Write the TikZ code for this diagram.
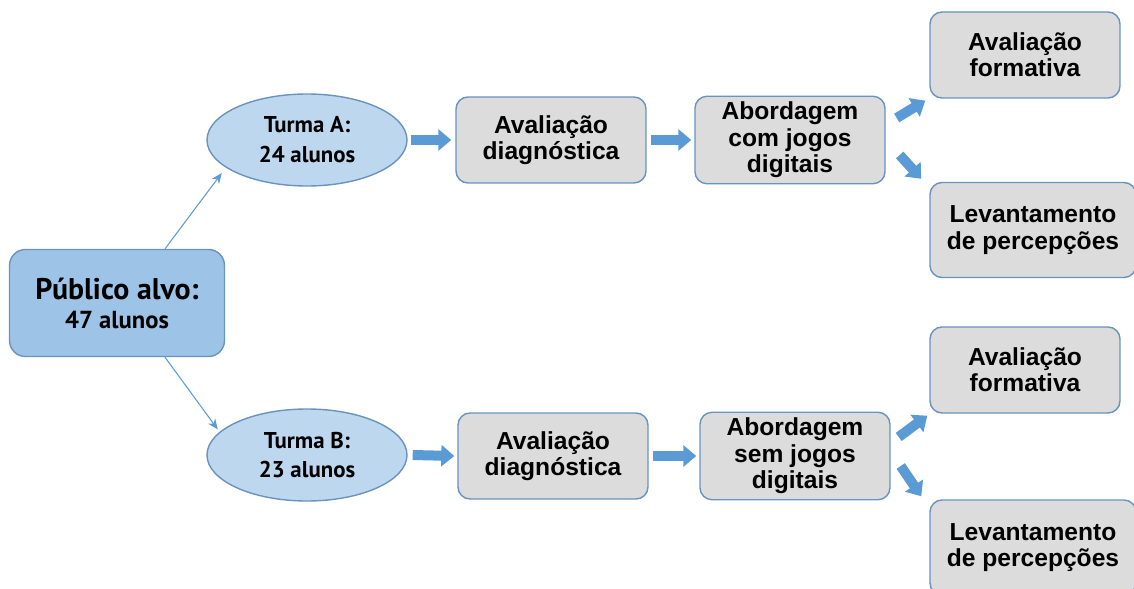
\documentclass[tikz,border=0pt]{standalone}
\usepackage{fontspec}
\setmainfont{Liberation Sans}
\newfontfamily\dinfont{PT Sans}
\usetikzlibrary{shapes.geometric,arrows.meta}

\definecolor{pubfill}{HTML}{9DC3E6}
\definecolor{ellfill}{HTML}{BDD7EE}
\definecolor{boxfill}{HTML}{DCDCDC}
\definecolor{edge}{HTML}{6A93C0}
\definecolor{arr}{HTML}{5B9BD5}

\begin{document}
\begin{tikzpicture}[
  pubbox/.style={draw=edge,fill=pubfill,rounded corners=0.32cm,minimum width=4.3cm,minimum height=2.14cm,align=center,font=\dinfont\bfseries\fontsize{17}{16.5}\selectfont,line width=0.8pt},
  turma/.style={ellipse,draw=edge,fill=ellfill,minimum width=4cm,minimum height=1.84cm,inner sep=0pt,align=center,font=\dinfont\bfseries\fontsize{13}{17}\selectfont,line width=0.8pt},
  gbox/.style={draw=edge,fill=boxfill,rounded corners=0.24cm,minimum width=3.8cm,minimum height=1.72cm,align=center,font=\bfseries\fontsize{14}{15}\selectfont,line width=0.8pt},
  barrow/.style={line width=0.2cm,color=arr,-{Triangle[width=0.42cm,length=0.26cm]}},
  tarrow/.style={color=arr,line width=0.6pt,-{Stealth[length=6pt,width=5pt]}}]
\useasboundingbox (0,0) rectangle (22.68,-11.78);
\clip (0,0) rectangle (22.68,-11.78);

\node[pubbox](pub) at (2.34,-6.06) {P\'ublico alvo:\\{\fontsize{14}{17}\selectfont 47 alunos}};

\node[turma](tA) at (6.14,-2.8) {Turma A:\\24 alunos};
\node[turma](tB) at (6.14,-9.1) {Turma B:\\23 alunos};

\node[gbox](dA) at (11.02,-2.8) {Avalia\c{c}\~ao\\diagn\'ostica};
\node[gbox](dB) at (11.06,-9.12) {Avalia\c{c}\~ao\\diagn\'ostica};

\node[gbox](jA) at (15.8,-2.8) {Abordagem\\com jogos\\digitais};
\node[gbox](jB) at (15.9,-9.12) {Abordagem\\sem jogos\\digitais};

\node[gbox](fA) at (20.5,-1.1) {Avalia\c{c}\~ao\\formativa};
\node[gbox](fB) at (20.5,-7.4) {Avalia\c{c}\~ao\\formativa};
\node[gbox,minimum width=4.12cm,minimum height=1.9cm](lA) at (20.66,-4.6) {Levantamento\\de percep\c{c}\~oes};
\node[gbox,minimum width=4.12cm,minimum height=1.9cm](lB) at (20.66,-10.95) {Levantamento\\de percep\c{c}\~oes};

% thin arrows to the two classes
\draw[tarrow] ([xshift=0.96cm]pub.north) -- ([xshift=-0.28cm]tA.south west);
\draw[tarrow] ([xshift=0.96cm]pub.south) -- ([shift={(-0.36cm,-0.15cm)}]tB.north west);

% block arrows
\draw[barrow] ([xshift=0.06cm]tA.east) -- ([xshift=-0.08cm]dA.west);
\draw[barrow] ([xshift=0.1cm]tB.east) -- ([xshift=-0.06cm]dB.west);
\draw[barrow] ([xshift=0.08cm]dA.east) -- ([xshift=-0.06cm]jA.west);
\draw[barrow] ([xshift=0.08cm]dB.east) -- ([xshift=-0.06cm]jB.west);

\draw[barrow] ([shift={(0.22cm,0.44cm)}]jA.east) -- ([shift={(-0.08cm,-0.04cm)}]fA.south west);
\draw[barrow] ([shift={(0.28cm,-0.3cm)}]jA.east) -- ([shift={(-0.16cm,0.06cm)}]lA.north west);
\draw[barrow] ([shift={(0.16cm,0.38cm)}]jB.east) -- ([shift={(-0.04cm,-0.04cm)}]fB.south west);
\draw[barrow] ([shift={(0.2cm,-0.2cm)}]jB.east) -- ([shift={(-0.16cm,0.06cm)}]lB.north west);

\end{tikzpicture}
\end{document}
